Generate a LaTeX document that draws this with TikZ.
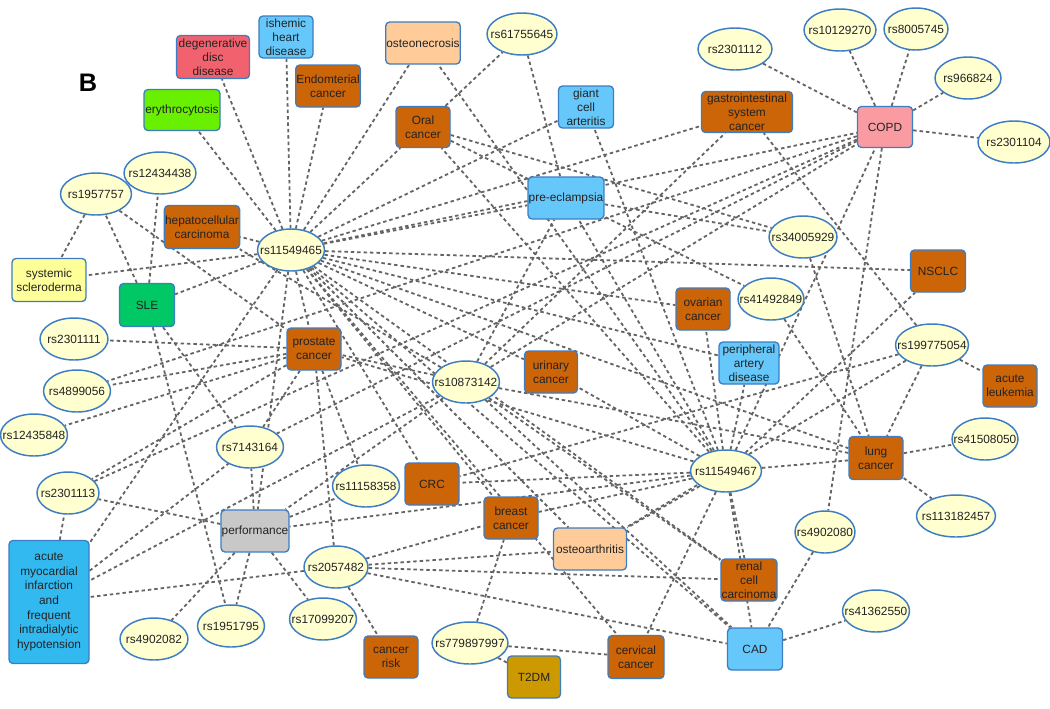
\documentclass[tikz,border=0pt]{standalone}
\usepackage{fontspec}
\setmainfont{Liberation Sans}
\usetikzlibrary{shapes.geometric,backgrounds}
\definecolor{bord}{RGB}{60,125,196}
\definecolor{snpfill}{RGB}{255,255,208}
\definecolor{edgec}{RGB}{100,100,100}
\definecolor{txt}{RGB}{35,35,35}
\definecolor{corange}{RGB}{204,100,8}
\definecolor{clblue}{RGB}{102,200,250}
\definecolor{cdblue}{RGB}{50,185,240}
\definecolor{cdeg}{RGB}{242,98,110}
\definecolor{cgreen}{RGB}{104,240,0}
\definecolor{cpeach}{RGB}{255,204,153}
\definecolor{cpink}{RGB}{250,155,162}
\definecolor{cyel}{RGB}{255,255,153}
\definecolor{csle}{RGB}{0,200,100}
\definecolor{cgray}{RGB}{200,200,200}
\definecolor{cgold}{RGB}{204,153,0}
\newcommand\zw[1]{\makebox[0pt]{#1}}
\newcommand\fs{\fontsize{8.9}{10.5}\selectfont}
\tikzset{
  dbox/.style={draw=bord, line width=1pt, rounded corners=3pt, inner sep=0.5pt, align=center, font=\fs, text=txt},
  wh/.style 2 args={minimum width=#1*0.75pt, minimum height=#2*0.75pt},
  snp/.style={ellipse, draw=bord, line width=1.1pt, fill=snpfill, inner sep=0pt, minimum width=#1*0.75pt, minimum height=31.5pt, font=\fs, text=txt},
  lnk/.style={draw=edgec, line width=1.35pt, dash pattern=on 2.6pt off 2.2pt}
}
\begin{document}
\begin{tikzpicture}[x=0.75pt,y=-0.75pt]
\useasboundingbox (0,0) rectangle (1050,708);
\node[font=\fontsize{19}{20}\selectfont\bfseries] (lblB) at (88,83) {B};
% disease / trait boxes
\node[dbox, wh={73}{43}, fill=cdeg] (deg) at (213,57) {degenerative\\disc\\disease};
\node[dbox, wh={54}{42}, fill=clblue] (ihd) at (286,37) {ishemic\\heart\\disease};
\node[dbox, wh={63}{42}, fill=corange] (endo) at (328,86) {Endomterial\\cancer};
\node[dbox, wh={76}{41}, fill=cgreen] (ery) at (182,110) {erythrocytosis};
\node[dbox, wh={73}{42}, fill=cpeach] (osteon) at (423,43) {osteonecrosis};
\node[dbox, wh={54}{41}, fill=corange] (oral) at (423,127) {Oral\\cancer};
\node[dbox, wh={55}{42}, fill=clblue] (gca) at (586,107) {giant\\cell\\arteritis};
\node[dbox, wh={73}{42}, fill=clblue] (preec) at (566,198) {pre-eclampsia};
\node[dbox, wh={91}{41}, fill=corange] (gi) at (747,112) {gastrointestinal\\system\\cancer};
\node[dbox, wh={55}{41}, fill=cpink] (copd) at (885,127) {COPD};
\node[dbox, wh={72}{43}, fill=corange] (hepato) at (202,227) {hepatocellular\\carcinoma};
\node[dbox, wh={74}{43}, fill=cyel] (scl) at (49,280) {systemic\\scleroderma};
\node[dbox, wh={55}{43}, fill=csle] (sle) at (147,305) {SLE};
\node[dbox, wh={54}{42}, fill=corange] (prost) at (314,349) {prostate\\cancer};
\node[dbox, wh={53}{42}, fill=corange] (urin) at (551,372) {urinary\\cancer};
\node[dbox, wh={54}{42}, fill=corange] (ovar) at (703,309) {ovarian\\cancer};
\node[dbox, wh={60}{42}, fill=clblue] (pad) at (749,363) {peripheral\\artery\\disease};
\node[dbox, wh={55}{42}, fill=corange] (nsclc) at (938,271) {NSCLC};
\node[dbox, wh={54}{42}, fill=corange] (leuk) at (1010,386) {acute\\leukemia};
\node[dbox, wh={54}{43}, fill=corange] (lung) at (876,458) {lung\\cancer};
\node[dbox, wh={54}{42}, fill=corange] (crc) at (432,484) {CRC};
\node[dbox, wh={54}{42}, fill=corange] (breast) at (511,518) {breast\\cancer};
\node[dbox, wh={73}{42}, fill=cpeach] (osteoa) at (590,549) {osteoarthritis};
\node[dbox, wh={54}{42}, fill=corange] (renal) at (749,580) {renal\\cell\\carcinoma};
\node[dbox, wh={55}{42}, fill=clblue] (cad) at (755,649) {CAD};
\node[dbox, wh={56}{43}, fill=corange] (cerv) at (636,657) {cervical\\cancer};
\node[dbox, wh={53}{42}, fill=cgold] (t2dm) at (534,677) {T2DM};
\node[dbox, wh={54}{42}, fill=corange] (crisk) at (391,657) {cancer\\risk};
\node[dbox, wh={67}{42}, fill=cgray] (perf) at (255,531) {performance};
\node[dbox, wh={80}{123}, fill=cdblue, font=\fontsize{8.9}{11}\selectfont] (ami) at (49,602) {acute\\myocardial\\infarction\\and\\frequent\\intradialytic\\hypotension};
% SNP ellipses
\node[snp=70] (s617) at (522,34) {\zw{rs61755645}};
\node[snp=74] (s2301112) at (735,49) {\zw{rs2301112}};
\node[snp=72] (s1012) at (840,30) {\zw{rs10129270}};
\node[snp=64] (s8005) at (916,29) {\zw{rs8005745}};
\node[snp=66] (s9668) at (968,78) {\zw{rs966824}};
\node[snp=72] (s2301104) at (1014,142) {\zw{rs2301104}};
\node[snp=68] (s3400) at (803,237) {\zw{rs34005929}};
\node[snp=72] (s1243) at (160,173) {\zw{rs12434438}};
\node[snp=71] (s1957) at (96,194) {\zw{rs1957757}};
\node[snp=67] (r65) at (291,250) {\zw{rs11549465}};
\node[snp=68] (s2301111) at (74,339) {\zw{rs2301111}};
\node[snp=67] (s4899) at (77,391) {\zw{rs4899056}};
\node[snp=67] (s1243b) at (34,435) {\zw{rs12435848}};
\node[snp=67] (s7143) at (250,447) {\zw{rs7143164}};
\node[snp=67] (r42) at (466,382) {\zw{rs10873142}};
\node[snp=66] (s4149) at (771,299) {\zw{rs41492849}};
\node[snp=73] (r54) at (932,345) {\zw{rs199775054}};
\node[snp=66] (s4150) at (985,439) {\zw{rs41508050}};
\node[snp=71] (r67) at (726,471) {\zw{rs11549467}};
\node[snp=79] (s1131) at (956,516) {\zw{rs113182457}};
\node[snp=60] (s4902080) at (825,532) {\zw{rs4902080}};
\node[snp=67] (s4136) at (876,611) {\zw{rs41362550}};
\node[snp=76] (s7798) at (470,643) {\zw{rs779897997}};
\node[snp=67] (s1115) at (366,486) {\zw{rs11158358}};
\node[snp=64] (r82) at (336,567) {\zw{rs2057482}};
\node[snp=62] (s2301113) at (68,493) {\zw{rs2301113}};
\node[snp=68] (s4902082) at (154,639) {\zw{rs4902082}};
\node[snp=67] (s1951) at (231,626) {\zw{rs1951795}};
\node[snp=67] (s1709) at (323,619) {\zw{rs17099207}};
% connectors
\begin{scope}[on background layer]
\fill[white] (0,0) rectangle (1050,708);
\foreach \a/\b in {r65/deg, r65/ihd, r65/endo, r65/ery, r65/osteon, r65/oral, r65/gca, r65/preec, r65/gi, r65/copd, r65/nsclc, r65/ovar, r65/pad, r65/lung, r65/urin, r65/crc, r65/breast, r65/renal, r65/osteoa, r65/cerv, r65/cad, r65/prost, r65/hepato, r65/sle, r65/scl, r65/ami, r65/perf,
 r67/osteon, r67/gca, r67/oral, r67/preec, r67/lung, r67/renal, r67/cad, r67/cerv, r67/osteoa, r67/breast, r67/crc, r67/perf, r67/pad, r67/ovar, r67/urin, r67/nsclc, r67/prost, r67/copd,
 r42/preec, r42/gi, r42/prost, r42/lung, r42/copd, r42/ami, r42/renal, r42/cad, r42/hepato, r42/perf,
 r54/gi, r54/leuk, r54/lung, r54/crc, r54/osteoa,
 copd/s2301112, copd/s1012, copd/s8005, copd/s9668, copd/s2301104, copd/s4902080, copd/s7143, copd/s4899, copd/s2301113,
 s4902080/cad, cad/s4136, lung/s4150, lung/s1131,
 r82/ami, r82/crisk, r82/breast, r82/osteoa, r82/renal, r82/cad, r82/prost,
 s7798/breast, s7798/cerv, s7798/t2dm,
 perf/s2301113, perf/s1951, perf/s4902082, perf/s1709, perf/s7143, perf/s1115,
 sle/s1957, sle/s1243, sle/s1951, sle/s7143,
 s1957/scl, s1957/prost,
 prost/s2301111, prost/s4899, prost/s1243b, prost/s2301113, prost/s7143, prost/s1115,
 ami/s2301113, ami/s7143,
 oral/s617, oral/s4149, oral/s3400, s617/preec, preec/s3400, s4149/lung, s3400/lung}
  \draw[lnk] (\a) -- (\b);
\end{scope}
\end{tikzpicture}
\end{document}
